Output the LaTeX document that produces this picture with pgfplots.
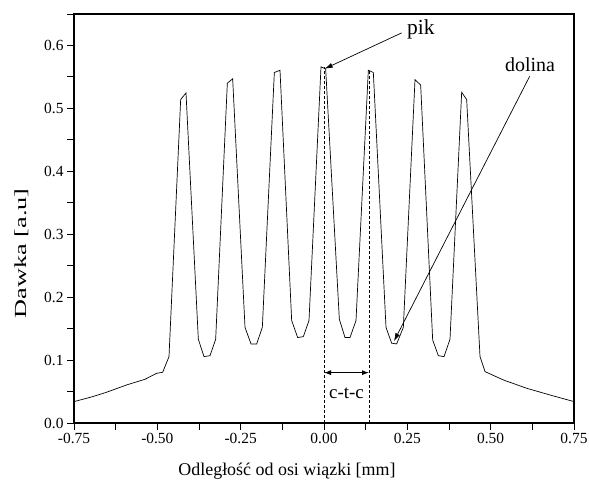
\documentclass[border=0pt]{standalone}
\usepackage{fontspec}
\setmainfont{Liberation Serif}
\usepackage{graphicx}
\usepackage{pgfplots}
\pgfplotsset{compat=1.18}
\usetikzlibrary{arrows.meta}
\begin{document}
\begin{tikzpicture}
\begin{axis}[
  name=ax,
  scale only axis,
  width=500bp, height=409bp,
  xmin=-0.75, xmax=0.75, ymin=0, ymax=0.65,
  xtick={-0.75,-0.5,...,0.75},
  ytick={0,0.1,...,0.6},
  minor xtick={-0.625,-0.375,-0.125,0.125,0.375,0.625},
  minor ytick={0.05,0.15,...,0.65},
  xtick pos=left, ytick pos=left,
  tick align=outside,
  major tick length=7bp, minor tick length=7bp,
  every tick/.style={black, line width=0.9pt},
  axis line style={line width=1.1pt},
  /pgf/number format/assume math mode=true,
  xticklabel style={/pgf/number format/.cd, fixed, fixed zerofill, precision=2},
  yticklabel style={/pgf/number format/.cd, fixed, fixed zerofill, precision=1},
  ticklabel style={font=\fontsize{15.5}{17}\selectfont},
  label style={font=\fontsize{18}{20}\selectfont},
  xlabel={Odległość od osi wiązki [mm]},
  ylabel={\fontsize{17}{19}\selectfont\scalebox{1.55}[1]{Dawka [a.u]}},
  xlabel style={at={(ticklabel cs:0.426)}, yshift=-12bp},
  ylabel style={at={(ticklabel cs:0.415)}, yshift=9bp},
]
\addplot[black, line width=0.7pt] coordinates {
(-0.750,0.034) (-0.700,0.041) (-0.657,0.048) (-0.592,0.0605) (-0.537,0.0695)
(-0.502,0.079) (-0.484,0.0806) (-0.465,0.1055)
(-0.430,0.514) (-0.414,0.5245)
(-0.377,0.133) (-0.360,0.1055) (-0.342,0.107) (-0.325,0.133)
(-0.290,0.540) (-0.274,0.547)
(-0.237,0.152) (-0.219,0.1257) (-0.202,0.1257) (-0.185,0.152)
(-0.149,0.557) (-0.132,0.5606)
(-0.097,0.1628) (-0.079,0.1358) (-0.062,0.1373) (-0.045,0.1628)
(-0.009,0.566) (0.005,0.5628)
(0.046,0.165) (0.063,0.1358) (0.078,0.1358) (0.096,0.1628)
(0.133,0.5606) (0.148,0.557)
(0.186,0.152) (0.203,0.1268) (0.218,0.1257) (0.238,0.152)
(0.273,0.5457) (0.290,0.537)
(0.326,0.132) (0.343,0.107) (0.360,0.1055) (0.378,0.133)
(0.413,0.5256) (0.428,0.514)
(0.468,0.1055) (0.483,0.0817) (0.538,0.0684) (0.608,0.0552) (0.678,0.0445) (0.750,0.034)
};
\addplot[black, densely dashed, line width=0.6pt] coordinates {(0,0) (0,0.565)};
\addplot[black, densely dashed, line width=0.6pt] coordinates {(0.135,0) (0.135,0.560)};
\draw[{Latex[length=7bp,width=5bp]}-{Latex[length=7bp,width=5bp]}, line width=0.9pt]
  (axis cs:0,0.08) -- (axis cs:0.135,0.08);
\node[font=\fontsize{19}{21}\selectfont] at (axis cs:0.0675,0.047) {c-t-c};
\node[font=\fontsize{21.5}{23}\selectfont, anchor=west, inner sep=0pt] at (axis cs:0.249,0.625) {pik};
\draw[-{Latex[length=8bp,width=5bp]}, line width=0.7pt]
  (axis cs:0.233,0.620) -- (axis cs:0.002,0.563);
\node[font=\fontsize{20}{22}\selectfont] at (axis cs:0.618,0.570) {dolina};
\draw[-{Latex[length=8bp,width=5bp]}, line width=0.7pt]
  (axis cs:0.617,0.551) -- (axis cs:0.210,0.130);
\end{axis}
\pgfresetboundingbox
\useasboundingbox ([xshift=-74bp,yshift=-63bp]ax.south west) rectangle ([xshift=15bp,yshift=14bp]ax.north east);
\end{tikzpicture}
\end{document}
